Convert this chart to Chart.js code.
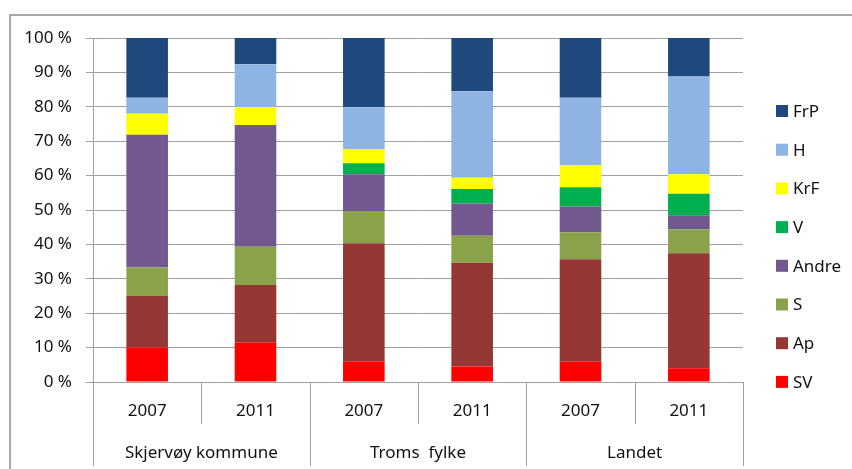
<!DOCTYPE html>
<html>
<head>
<meta charset="utf-8">
<script src="https://cdn.jsdelivr.net/npm/chart.js@4/dist/chart.umd.min.js"></script>
<style>
  html, body { margin: 0; padding: 0; background: #fff; }
  #wrap { width: 852px; height: 469px; }
</style>
</head>
<body>
<div id="wrap"><canvas id="chart" width="852" height="469"></canvas></div>
<script>
// year labels and their groups
const years = ['2007', '2011', '2007', '2011', '2007', '2011'];
const groups = ['Skjervøy kommune', 'Troms  fylke', 'Landet'];

// share of votes per party (%), one value per bar
const SV    = [10.0, 11.4,  5.9,  4.5,  5.9,  4.0];
const Ap    = [15.0, 16.8, 34.4, 30.2, 29.8, 33.4];
const S     = [ 8.3, 11.1,  9.4,  7.8,  7.8,  7.0];
const Andre = [38.6, 35.4, 10.7,  9.4,  7.5,  4.1];
const V     = [ 0.0,  0.0,  3.2,  4.2,  5.6,  6.2];
const KrF   = [ 6.1,  5.2,  4.1,  3.3,  6.5,  5.7];
const H     = [ 4.6, 12.5, 12.2, 25.1, 19.5, 28.4];
const FrP   = [17.4,  7.6, 20.1, 15.5, 17.4, 11.2];

const yTicks = [0, 10, 20, 30, 40, 50, 60, 70, 80, 90, 100];

const FONT = '"Noto Sans", "Open Sans", sans-serif';
const GRID = '#a0a0a0';
const INK = '#111';

const series = [
  { label: 'SV', data: SV, color: '#ff0000' },
  { label: 'Ap', data: Ap, color: '#953735' },
  { label: 'S', data: S, color: '#8aa34b' },
  { label: 'Andre', data: Andre, color: '#71588f' },
  { label: 'V', data: V, color: '#00b050' },
  { label: 'KrF', data: KrF, color: '#ffff00' },
  { label: 'H', data: H, color: '#8eb4e3' },
  { label: 'FrP', data: FrP, color: '#1f497d' }
];

// frame, group labels, dividers under the axis, and the legend
const decor = {
  id: 'decor',
  beforeDraw(chart) {
    const ctx = chart.ctx;
    ctx.save();
    ctx.fillStyle = '#fff';
    ctx.fillRect(0, 0, chart.width, chart.height);
    ctx.strokeStyle = '#a8a8a8';
    ctx.lineWidth = 2;
    ctx.beginPath();
    ctx.moveTo(10, chart.height);
    ctx.lineTo(10, 15);
    ctx.lineTo(chart.width, 15);
    ctx.stroke();
    ctx.restore();
  },
  afterDraw(chart) {
    const ctx = chart.ctx;
    const x = chart.scales.x;
    const area = chart.chartArea;
    const n = years.length;
    const per = n / groups.length;
    ctx.save();
    ctx.strokeStyle = GRID;
    ctx.lineWidth = 1;
    // dividers between categories
    for (let i = 0; i <= n; i++) {
      let px;
      if (i === 0) px = area.left;
      else if (i === n) px = area.right;
      else px = (x.getPixelForTick(i - 1) + x.getPixelForTick(i)) / 2;
      const long = i % per === 0;
      const bottom = long ? area.bottom + 84 : area.bottom + 42;
      px = Math.round(px) + 0.5;
      ctx.beginPath();
      ctx.moveTo(px, area.bottom);
      ctx.lineTo(px, bottom);
      ctx.stroke();
    }
    // group labels
    ctx.fillStyle = INK;
    ctx.font = '17px ' + FONT;
    ctx.textAlign = 'center';
    ctx.textBaseline = 'middle';
    groups.forEach((g, gi) => {
      const a = gi === 0 ? area.left : (x.getPixelForTick(gi * per - 1) + x.getPixelForTick(gi * per)) / 2;
      const last = (gi + 1) * per;
      const b = last === n ? area.right : (x.getPixelForTick(last - 1) + x.getPixelForTick(last)) / 2;
      ctx.fillText(g, (a + b) / 2, area.bottom + 71);
    });
    // legend, top entry first
    const lx = area.right + 33;
    let ly = 111;
    ctx.textAlign = 'left';
    chart.data.datasets.slice().reverse().forEach(ds => {
      ctx.fillStyle = ds.backgroundColor;
      ctx.fillRect(lx, ly - 6, 12, 12);
      ctx.fillStyle = INK;
      ctx.fillText(ds.label, lx + 17, ly + 1);
      ly += 38.7;
    });
    ctx.restore();
  }
};

new Chart(document.getElementById('chart'), {
  type: 'bar',
  data: {
    labels: years,
    datasets: series.map(s => ({
      label: s.label,
      data: s.data,
      backgroundColor: s.color,
      borderWidth: 0,
      categoryPercentage: 1,
      barPercentage: 0.384
    }))
  },
  options: {
    responsive: false,
    animation: false,
    layout: { padding: { left: 0, top: 38, right: 109, bottom: 0 } },
    plugins: {
      legend: { display: false },
      tooltip: { enabled: false }
    },
    scales: {
      x: {
        stacked: true,
        grid: { display: false, drawTicks: false },
        border: { display: true, color: GRID, width: 1 },
        ticks: { color: INK, font: { family: FONT, size: 17 }, padding: 19, maxRotation: 0 },
        afterFit(scale) { scale.height = 87; }
      },
      y: {
        stacked: true,
        min: 0,
        max: 100,
        afterBuildTicks(scale) { scale.ticks = yTicks.map(v => ({ value: v })); },
        grid: { color: GRID, lineWidth: 1, tickLength: 7, tickColor: GRID },
        border: { display: true, color: GRID, width: 1 },
        ticks: {
          color: INK,
          font: { family: FONT, size: 17 },
          padding: 14,
          callback: v => v + ' %'
        },
        afterFit(scale) { scale.width = 93; }
      }
    }
  },
  plugins: [decor]
});
</script>
</body>
</html>
